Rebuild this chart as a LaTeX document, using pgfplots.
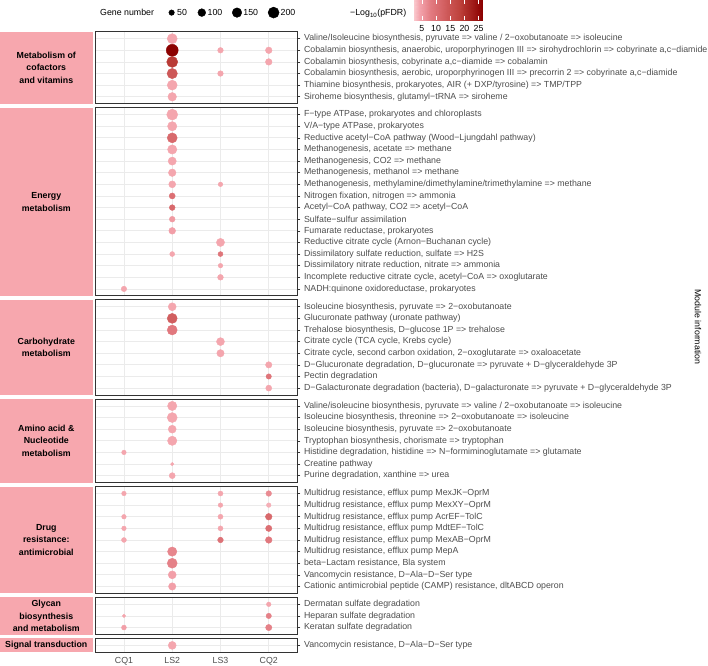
\documentclass[border=0pt]{standalone}
\usepackage{pgfplots}
\pgfplotsset{compat=1.18}
\usepackage{fontspec}
\setmainfont{Liberation Sans}
\definecolor{strippink}{RGB}{247,167,174}
\definecolor{gridc}{RGB}{235,235,235}
\definecolor{framec}{RGB}{51,51,51}
\definecolor{tickc}{RGB}{77,77,77}
\newcommand{\fs}{\fontsize{8.8}{10.6}\selectfont}
\newcommand{\fsb}{\fontsize{8.8}{12.6}\selectfont\bfseries}
\pgfplotsset{
 colormap={pinkred}{rgb255(0)=(250,200,205) rgb255(2)=(243,162,171) rgb255(6)=(226,122,128) rgb255(10)=(212,98,100) rgb255(16)=(190,66,60) rgb255(24)=(139,0,0)},
 panel/.style={scale only axis, width=202.7pt, anchor=north west, xmin=-0.6, xmax=3.6, ymin=0.4, y dir=reverse,
   xtick={0,1,2,3}, xticklabels={}, xtick style={draw=none},
   ytick pos=right, yticklabel pos=right, tick align=outside, major tick length=2.8pt,
   ytick style={line width=0.6pt, color=framec},
   grid=major, major grid style={line width=0.8pt, color=gridc},
   axis line style={line width=0.8pt, color=framec},
   yticklabel style={font=\fs, text=tickc},
   colormap name=pinkred, point meta min=2.2, point meta max=26.2, clip=false},
 dots/.style={scatter, only marks, mark=*, point meta=\thisrow{c},
   scatter/use mapped color={draw=mapped color, fill=mapped color},
   visualization depends on={0.39*sqrt(\thisrow{n}) \as \msize},
   scatter/@pre marker code/.append style={/tikz/mark size=\msize}}
}
\begin{document}
\begin{tikzpicture}
\path[use as bounding box] (0,0) rectangle (708pt,-665pt);
% strips
\fill[strippink] (0pt,-31.7pt) rectangle (92.7pt,-103.74pt);
\node[align=center,font=\fsb] at (46.3pt,-67.7pt) {Metabolism of\\cofactors\\and vitamins};
\fill[strippink] (0pt,-107.64pt) rectangle (92.7pt,-295.88pt);
\node[align=center,font=\fsb] at (46.3pt,-201.76pt) {Energy\\metabolism};
\fill[strippink] (0pt,-299.78pt) rectangle (92.7pt,-395.06pt);
\node[align=center,font=\fsb] at (46.3pt,-347.42pt) {Carbohydrate\\metabolism};
\fill[strippink] (0pt,-398.96pt) rectangle (92.7pt,-482.62pt);
\node[align=center,font=\fsb] at (46.3pt,-440.79pt) {Amino acid \&\\Nucleotide\\metabolism};
\fill[strippink] (0pt,-486.52pt) rectangle (92.7pt,-593.42pt);
\node[align=center,font=\fsb] at (46.3pt,-539.97pt) {Drug\\resistance:\\antimicrobial};
\fill[strippink] (0pt,-597.32pt) rectangle (92.7pt,-634.5pt);
\node[align=center,font=\fsb] at (46.3pt,-615.91pt) {Glycan\\biosynthesis\\and metabolism};
\fill[strippink] (0pt,-638.4pt) rectangle (92.7pt,-652.34pt);
\node[align=center,font=\fsb] at (46.3pt,-645.37pt) {Signal transduction};
\node[rotate=-90,font=\fs] at (698pt,-327pt) {Module information};

% Panel 1
\begin{axis}[panel, at={(95pt,-31.7pt)}, height=72.04pt, ymax=6.6, ytick={1,...,6},
 yticklabels={{Valine/Isoleucine biosynthesis, pyruvate => valine / 2−oxobutanoate => isoleucine},
 {Cobalamin biosynthesis, anaerobic, uroporphyrinogen III => sirohydrochlorin => cobyrinate a,c−diamide},
 {Cobalamin biosynthesis, cobyrinate a,c−diamide => cobalamin},
 {Cobalamin biosynthesis, aerobic, uroporphyrinogen III => precorrin 2 => cobyrinate a,c−diamide},
 {Thiamine biosynthesis, prokaryotes, AIR (+ DXP/tyrosine) => TMP/TPP},
 {Siroheme biosynthesis, glutamyl−tRNA => siroheme}}]
\addplot[dots] table {
x y n c
1 1 165 4
1 2 237 26
2 2 52 4
3 2 72 4
1 3 200 19
3 3 72 4
1 4 175 14
2 4 52 4
1 5 165 4
1 6 122 4
};
\end{axis}

% Panel 2
\begin{axis}[panel, at={(95pt,-107.64pt)}, height=188.24pt, ymax=16.6, ytick={1,...,16},
 yticklabels={{F−type ATPase, prokaryotes and chloroplasts},
 {V/A−type ATPase, prokaryotes},
 {Reductive acetyl−CoA pathway (Wood−Ljungdahl pathway)},
 {Methanogenesis, acetate => methane},
 {Methanogenesis, CO2 => methane},
 {Methanogenesis, methanol => methane},
 {Methanogenesis, methylamine/dimethylamine/trimethylamine => methane},
 {Nitrogen fixation, nitrogen => ammonia},
 {Acetyl−CoA pathway, CO2 => acetyl−CoA},
 {Sulfate−sulfur assimilation},
 {Fumarate reductase, prokaryotes},
 {Reductive citrate cycle (Arnon−Buchanan cycle)},
 {Dissimilatory sulfate reduction, sulfate => H2S},
 {Dissimilatory nitrate reduction, nitrate => ammonia},
 {Incomplete reductive citrate cycle, acetyl−CoA => oxoglutarate},
 {NADH:quinone oxidoreductase, prokaryotes}}]
\addplot[dots] table {
x y n c
1 1 200 4
1 2 143 4
1 3 165 11
1 4 143 4
1 5 110 4
1 6 95 4
1 7 80 4
2 7 35 4
1 8 60 10
1 9 55 11
1 10 55 5
1 11 75 4.5
2 12 110 4
1 13 41 4
2 13 41 9
2 14 35 4
2 15 55 4
0 16 50 4
};
\end{axis}

% Panel 3
\begin{axis}[panel, at={(95pt,-299.78pt)}, height=95.28pt, ymax=8.6, ytick={1,...,8},
 yticklabels={{Isoleucine biosynthesis, pyruvate => 2−oxobutanoate},
 {Glucuronate pathway (uronate pathway)},
 {Trehalose biosynthesis, D−glucose 1P => trehalose},
 {Citrate cycle (TCA cycle, Krebs cycle)},
 {Citrate cycle, second carbon oxidation, 2−oxoglutarate => oxaloacetate},
 {D−Glucuronate degradation, D−glucuronate => pyruvate + D−glyceraldehyde 3P},
 {Pectin degradation},
 {D−Galacturonate degradation (bacteria), D−galacturonate => pyruvate + D−glyceraldehyde 3P}}]
\addplot[dots] table {
x y n c
1 1 105 4
1 2 165 13
1 3 165 8.5
2 4 105 4
2 5 90 4
3 6 67 4
3 7 48 9
3 8 60 4
};
\end{axis}

% Panel 4
\begin{axis}[panel, at={(95pt,-398.96pt)}, height=83.66pt, ymax=7.6, ytick={1,...,7},
 yticklabels={{Valine/isoleucine biosynthesis, pyruvate => valine / 2−oxobutanoate => isoleucine},
 {Isoleucine biosynthesis, threonine => 2−oxobutanoate => isoleucine},
 {Isoleucine biosynthesis, pyruvate => 2−oxobutanoate},
 {Tryptophan biosynthesis, chorismate => tryptophan},
 {Histidine degradation, histidine => N−formiminoglutamate => glutamate},
 {Creatine pathway},
 {Purine degradation, xanthine => urea}}]
\addplot[dots] table {
x y n c
1 1 143 4
1 2 165 4
1 3 105 4
1 4 143 4
0 5 35 4
1 6 19 4
1 7 60 4
};
\end{axis}

% Panel 5
\begin{axis}[panel, at={(95pt,-486.52pt)}, height=106.9pt, ymax=9.6, ytick={1,...,9},
 yticklabels={{Multidrug resistance, efflux pump MexJK−OprM},
 {Multidrug resistance, efflux pump MexXY−OprM},
 {Multidrug resistance, efflux pump AcrEF−TolC},
 {Multidrug resistance, efflux pump MdtEF−TolC},
 {Multidrug resistance, efflux pump MexAB−OprM},
 {Multidrug resistance, efflux pump MepA},
 {beta−Lactam resistance, Bla system},
 {Vancomycin resistance, D−Ala−D−Ser type},
 {Cationic antimicrobial peptide (CAMP) resistance, dltABCD operon}}]
\addplot[dots] table {
x y n c
0 1 35 4
2 1 42 4
3 1 53 6.5
2 2 35 4
3 2 35 3.5
0 3 35 4
2 3 42 4
3 3 72 11
0 4 35 4
2 4 42 4
3 4 65 10
0 5 40 4
2 5 53 9.5
3 5 72 8.5
1 6 143 7
1 7 165 7.5
1 8 105 4.5
1 9 90 4.5
};
\end{axis}

% Panel 6
\begin{axis}[panel, at={(95pt,-597.32pt)}, height=37.18pt, ymax=3.6, ytick={1,2,3},
 yticklabels={{Dermatan sulfate degradation},{Heparan sulfate degradation},{Keratan sulfate degradation}}]
\addplot[dots] table {
x y n c
3 1 35 4
0 2 19 4
3 2 48 7.5
0 3 40 4.5
3 3 65 7.5
};
\end{axis}

% Panel 7
\begin{axis}[panel, at={(95pt,-638.4pt)}, height=13.94pt, ymax=1.6, ytick={1},
 yticklabels={{Vancomycin resistance, D−Ala−D−Ser type},{}},
 xticklabels={CQ1,LS2,LS3,CQ2}, xtick pos=bottom, xtick style={line width=0.6pt, color=framec},
 xticklabel style={font=\fs, text=tickc, yshift=1.8pt}]
\addplot[dots] table {
x y n c
1 1 105 4
};
\end{axis}

% size legend
\begin{axis}[at={(0pt,0pt)}, anchor=north west, scale only axis, width=708pt, height=665pt,
 xmin=0, xmax=708, ymin=0, ymax=665, y dir=reverse, hide axis, clip=false]
\addplot[scatter, only marks, mark=*, point meta=\thisrow{n},
   scatter/use mapped color={draw=black, fill=black},
   visualization depends on={0.39*sqrt(\thisrow{n}) \as \msize},
   scatter/@pre marker code/.append style={/tikz/mark size=\msize}] table {
x y n
171.6 12.6 50
201.8 12.6 100
237 12.6 150
273.6 12.6 200
};
\node[anchor=base west, inner sep=0pt, font=\fs] at (axis cs:100,15.8) {Gene number};
\node[anchor=base west, inner sep=0pt, font=\fs] at (axis cs:177,15.8) {50};
\node[anchor=base west, inner sep=0pt, font=\fs] at (axis cs:207.5,15.8) {100};
\node[anchor=base west, inner sep=0pt, font=\fs] at (axis cs:243.2,15.8) {150};
\node[anchor=base west, inner sep=0pt, font=\fs] at (axis cs:280.5,15.8) {200};
\node[anchor=base west, inner sep=0pt, font=\fs] at (axis cs:350,15.8) {−Log\textsubscript{10}(pFDR)};
\end{axis}

% colour bar
\begin{axis}[at={(414pt,0pt)}, anchor=north west, scale only axis, width=68pt, height=20pt,
 xmin=2.2, xmax=26.2, ymin=0, ymax=1, axis on top, axis line style={draw=none},
 ytick=\empty, xtick={5,10,15,20,25}, tick align=inside, xtick pos=both, xticklabel pos=lower,
 major tick length=4pt, xtick style={white, line width=0.7pt},
 xticklabel style={font=\fs, text=black, yshift=-2pt}, /pgf/number format/assume math mode=true,
 colormap name=pinkred, point meta min=2.2, point meta max=26.2]
\addplot[surf, shader=interp, point meta=x, mesh/rows=2] coordinates {
(2.2,0) (4,0) (6,0) (8,0) (10,0) (12,0) (14,0) (16,0) (18,0) (20,0) (22,0) (24,0) (26.2,0)
(2.2,1) (4,1) (6,1) (8,1) (10,1) (12,1) (14,1) (16,1) (18,1) (20,1) (22,1) (24,1) (26.2,1)
};
\end{axis}
\end{tikzpicture}
\end{document}
